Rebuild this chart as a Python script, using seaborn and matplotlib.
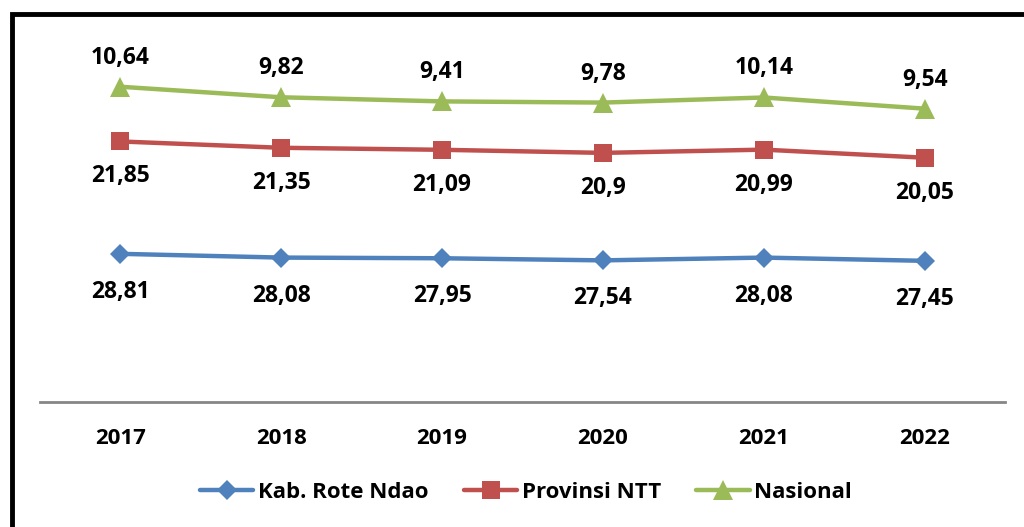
import numpy as np
import pandas as pd
import seaborn as sns
from matplotlib import pyplot as plt
from matplotlib.patches import Rectangle

years = ['2017', '2018', '2019', '2020', '2021', '2022']
rote = [28.81, 28.08, 27.95, 27.54, 28.08, 27.45]
ntt = [21.85, 21.35, 21.09, 20.90, 20.99, 20.05]
nasional = [10.64, 9.82, 9.41, 9.78, 10.14, 9.54]

series = ['Kab. Rote Ndao', 'Provinsi NTT', 'Nasional']
colors = ['#4F81BD', '#C0504D', '#9BBB59']
markers = ['D', 's', '^']
msizes = [10, 13, 14]
label_off = [-38, -35, 29]  # pixels, negative = below

sns.set_style('white')
plt.rcParams['font.family'] = ['Open Sans', 'DejaVu Sans']
plt.rcParams['font.weight'] = 'bold'

# stacked line chart: each series sits on top of the previous
raw = [rote, ntt, nasional]
cum = np.cumsum(np.array(raw), axis=0)

fig = plt.figure(figsize=(10.24, 5.27), dpi=100)
ax = fig.add_axes([40 / 1024, 1 - 402 / 527, 965 / 1024, 360 / 527])

x = np.arange(len(years))
for name, vals, top, c, m, ms, off in zip(series, raw, cum, colors, markers, msizes, label_off):
    df = pd.DataFrame({'x': x, 'y': top})
    sns.lineplot(data=df, x='x', y='y', ax=ax, color=c, linewidth=3.2,
                 marker=m, markersize=ms, markeredgewidth=0, label=name)
    for xi, yi, v in zip(x, top, vals):
        s = ('%g' % v).replace('.', ',')
        ax.annotate(s, (xi, yi), xytext=(0, off), textcoords='offset pixels',
                    ha='center', va='center', fontsize=16.5, fontweight='bold',
                    color='black')

ax.set_xlim(-0.5, 5.5)
ax.set_ylim(0, 70)
ax.set_xticks(x)
ax.set_xticklabels(years, fontsize=16, fontweight='bold', color='black')
ax.tick_params(axis='x', length=0, pad=19)
ax.set_yticks([])
ax.set_xlabel('')
ax.set_ylabel('')
for side in ['top', 'left', 'right']:
    ax.spines[side].set_visible(False)
ax.spines['bottom'].set_color('#868686')
ax.spines['bottom'].set_linewidth(2)

leg = ax.legend(loc='center', bbox_to_anchor=(526 / 1024, 1 - 492 / 527),
                bbox_transform=fig.transFigure, ncol=3, frameon=False,
                fontsize=16, handlelength=2.4, handletextpad=0.2,
                columnspacing=1.6)
for t in leg.get_texts():
    t.set_fontweight('bold')
    t.set_color('black')

# outer black frame (cut off on right and bottom)
fig.patches.append(Rectangle((12 / 1024, -0.1), 1.2, 1 - 13.5 / 527 + 0.1,
                             transform=fig.transFigure, fill=False,
                             edgecolor='black', linewidth=3.5))

fig.savefig('out.png', dpi=100)
